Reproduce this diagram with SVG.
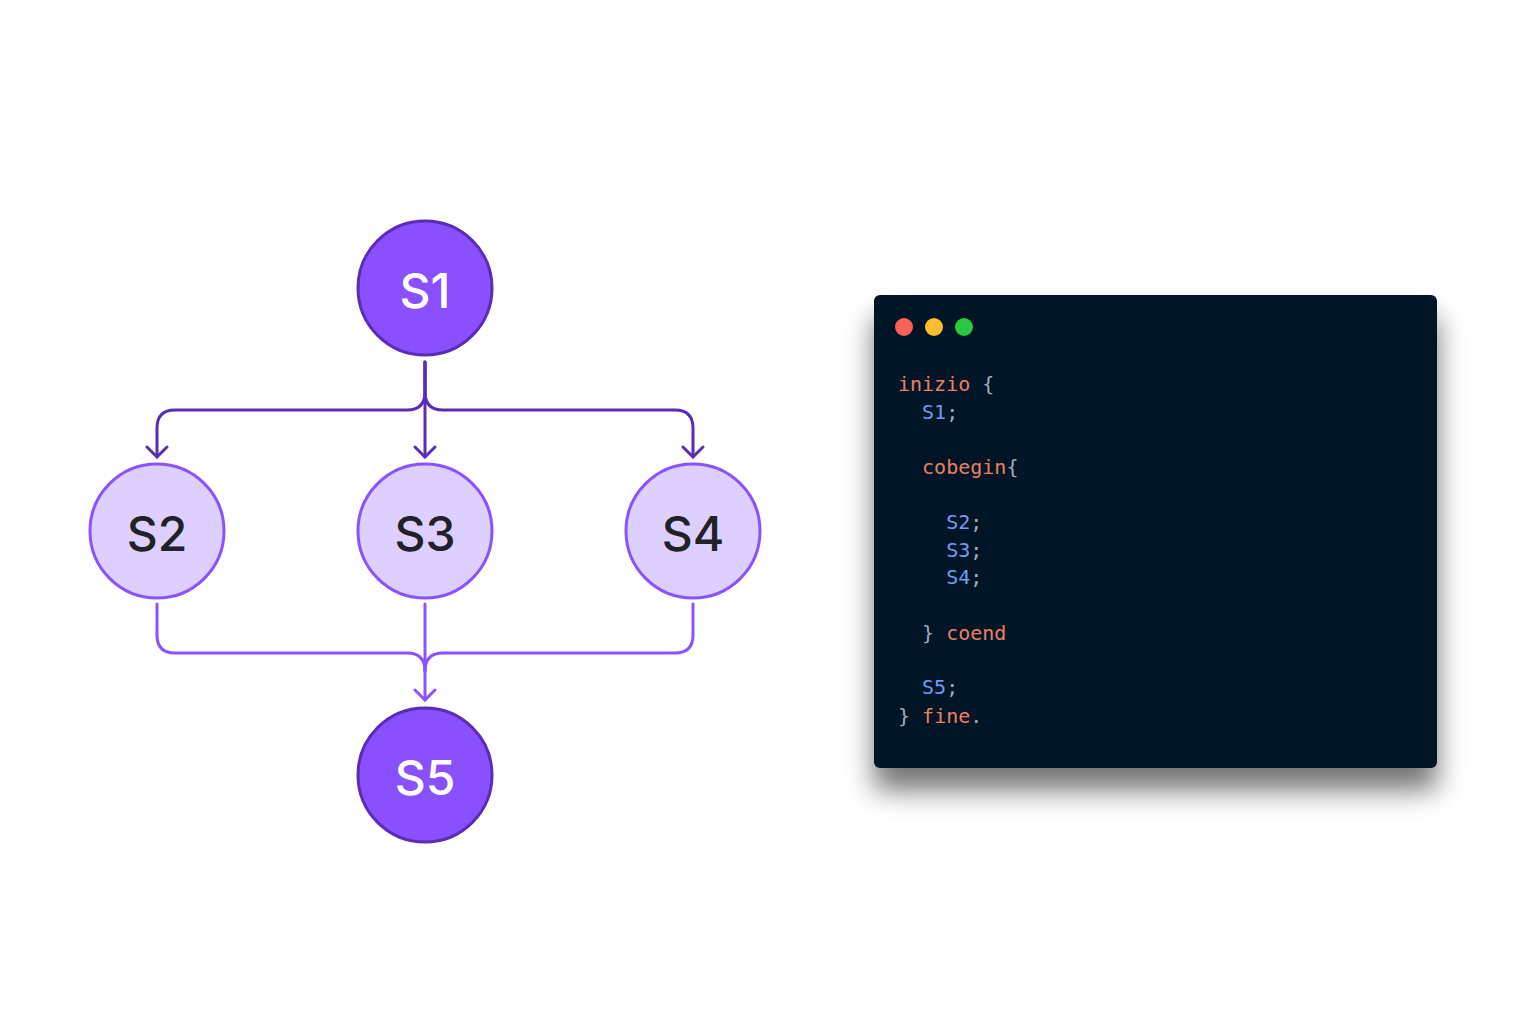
<svg xmlns="http://www.w3.org/2000/svg" width="1525" height="1020" viewBox="0 0 1525 1020">
<defs>
<style>
.dark circle{fill:#8a4fff;stroke:#5a2cb8;stroke-width:3}
.light circle{fill:#ddd0ff;stroke:#8b52ff;stroke-width:3}
.dark text{fill:#ffffff}
.light text{fill:#222028}
.nt{font-family:Inter,"Noto Sans","DejaVu Sans",sans-serif;font-size:48px;font-weight:500;text-anchor:middle;dominant-baseline:central}
.c1{fill:none;stroke:#5a2cb8;stroke-width:3;stroke-linecap:round;stroke-linejoin:round}
.c2{fill:none;stroke:#8b52ff;stroke-width:3;stroke-linecap:round;stroke-linejoin:round}
.code{font-family:"DejaVu Sans Mono","Liberation Mono",monospace;font-size:20px}
.k{fill:#ee7f63}
.v{fill:#6f9cf2}
.p{fill:#a3adbb}
</style>
<filter id="sh" x="-20%" y="-20%" width="140%" height="150%">
<feGaussianBlur in="SourceAlpha" stdDeviation="14"/>
<feOffset dx="0" dy="22" result="b"/>
<feComponentTransfer><feFuncA type="linear" slope="0.55"/></feComponentTransfer>
<feMerge><feMergeNode/><feMergeNode in="SourceGraphic"/></feMerge>
</filter>
</defs>
<rect width="1525" height="1020" fill="#ffffff"/>
<g id="connectors">
<path class="c1" d="M425 362 V392 Q425 410 407 410 H175 Q157 410 157 428 V457"/>
<path class="c1" d="M425 362 V392 Q425 410 443 410 H675 Q693 410 693 428 V457"/>
<path class="c1" d="M425 362 V457"/>
<path class="c1" d="M415 447 L425 457 L435 447"/>
<path class="c1" d="M147 447 L157 457 L167 447"/>
<path class="c1" d="M683 447 L693 457 L703 447"/>
<path class="c2" d="M157 604 V635 Q157 653 175 653 H407 Q425 653 425 671"/>
<path class="c2" d="M693 604 V635 Q693 653 675 653 H443 Q425 653 425 671"/>
<path class="c2" d="M425 604 V700"/>
<path class="c2" d="M415 690 L425 700 L435 690"/>
</g>
<g id="S1" class="dark"><circle cx="425" cy="288" r="67"/><text class="nt" x="425" y="290">S1</text></g>
<g id="S2" class="light"><circle cx="157" cy="531" r="67"/><text class="nt" x="157" y="533">S2</text></g>
<g id="S3" class="light"><circle cx="425" cy="531" r="67"/><text class="nt" x="425" y="533">S3</text></g>
<g id="S4" class="light"><circle cx="693" cy="531" r="67"/><text class="nt" x="693" y="533">S4</text></g>
<g id="S5" class="dark"><circle cx="425" cy="775" r="67"/><text class="nt" x="425" y="777">S5</text></g>
<g id="code-window">
<rect x="874" y="295" width="563" height="473" rx="6" fill="#021627" filter="url(#sh)"/>
<circle cx="904" cy="327" r="9" fill="#fe5f57"/>
<circle cx="934" cy="327" r="9" fill="#febc2e"/>
<circle cx="964" cy="327" r="9" fill="#28c840"/>
<g class="code">
<text x="898" y="391"><tspan class="k">inizio</tspan><tspan class="p"> {</tspan></text>
<text x="898" y="419" xml:space="preserve"><tspan class="v">  S1</tspan><tspan class="p">;</tspan></text>
<text x="898" y="474" xml:space="preserve"><tspan class="k">  cobegin</tspan><tspan class="p">{</tspan></text>
<text x="898" y="529" xml:space="preserve"><tspan class="v">    S2</tspan><tspan class="p">;</tspan></text>
<text x="898" y="557" xml:space="preserve"><tspan class="v">    S3</tspan><tspan class="p">;</tspan></text>
<text x="898" y="584" xml:space="preserve"><tspan class="v">    S4</tspan><tspan class="p">;</tspan></text>
<text x="898" y="640" xml:space="preserve"><tspan class="p">  } </tspan><tspan class="k">coend</tspan></text>
<text x="898" y="694" xml:space="preserve"><tspan class="v">  S5</tspan><tspan class="p">;</tspan></text>
<text x="898" y="723" xml:space="preserve"><tspan class="p">} </tspan><tspan class="k">fine</tspan><tspan class="p">.</tspan></text>
</g>
</g>
</svg>
